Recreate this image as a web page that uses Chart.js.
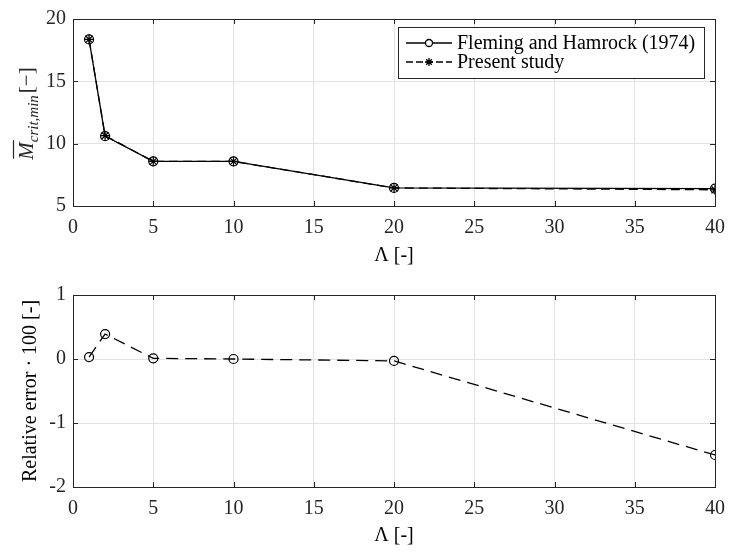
<!DOCTYPE html>
<html>
<head>
<meta charset="utf-8">
<script src="https://cdn.jsdelivr.net/npm/chart.js@4.4.1/dist/chart.umd.min.js"></script>
<style>
    html, body { margin: 0; padding: 0; background: #fff; }
    .panel { position: absolute; left: 0; width: 735px; height: 276px; }
</style>
</head>
<body>
<div class="panel" style="top:0"><canvas id="chart-mcrit"></canvas></div>
<div class="panel" style="top:276px"><canvas id="chart-error"></canvas></div>
<script>
// values
const lambdas = [1, 2, 5, 10, 20, 40];
const flemingHamrock = [18.36, 10.60, 8.58, 8.58, 6.45, 6.40];
const presentStudy = [18.37, 10.64, 8.58, 8.58, 6.45, 6.30];
const relativeError = [0.03, 0.39, 0.01, 0.00, -0.03, -1.50];

const lambdaTicks = [0, 5, 10, 15, 20, 25, 30, 35, 40];
const mcritTicks = [5, 10, 15, 20];
const errorTicks = [-2, -1, 0, 1];

const FONT = '"Liberation Serif", "DejaVu Serif", serif';
const INK = '#262626';
const tickFont = { family: FONT, size: 20 };

Chart.defaults.font.family = FONT;
Chart.defaults.font.size = 20;
Chart.defaults.color = INK;
Chart.defaults.animation = false;

const toPoints = (xs, ys) => xs.map((x, i) => ({ x: x, y: ys[i] }));
const fixedTicks = (values) => (scale) => { scale.ticks = values.map(v => ({ value: v })); };

// MATLAB style box with inward ticks on all four sides
const boxPlugin = {
    id: 'matlabBox',
    afterDatasetsDraw(chart) {
        const { ctx, chartArea: a, scales } = chart;
        const len = 5;
        ctx.save();
        ctx.strokeStyle = INK;
        ctx.lineWidth = 1;
        ctx.beginPath();
        scales.x.ticks.forEach(t => {
            const px = Math.round(scales.x.getPixelForValue(t.value)) + 0.5;
            ctx.moveTo(px, a.bottom); ctx.lineTo(px, a.bottom - len);
            ctx.moveTo(px, a.top); ctx.lineTo(px, a.top + len);
        });
        scales.y.ticks.forEach(t => {
            const py = Math.round(scales.y.getPixelForValue(t.value)) + 0.5;
            ctx.moveTo(a.left, py); ctx.lineTo(a.left + len, py);
            ctx.moveTo(a.right, py); ctx.lineTo(a.right - len, py);
        });
        ctx.stroke();
        ctx.strokeRect(Math.round(a.left) + 0.5, Math.round(a.top) + 0.5,
            Math.round(a.right - a.left), Math.round(a.bottom - a.top));
        ctx.restore();
    }
};

// overline M with subscript crit,min, rotated
const mcritTitlePlugin = {
    id: 'mcritTitle',
    afterDraw(chart) {
        const ctx = chart.ctx;
        const a = chart.chartArea;
        const big = 'italic 21px ' + FONT;
        const sub = 'italic 15px ' + FONT;
        const reg = '21px ' + FONT;
        ctx.save();
        ctx.translate(33, (a.top + a.bottom) / 2 + 1);
        ctx.rotate(-Math.PI / 2);
        ctx.fillStyle = INK;
        ctx.strokeStyle = INK;
        ctx.textBaseline = 'alphabetic';
        ctx.font = big; const wM = ctx.measureText('M').width;
        ctx.font = sub; const wS = ctx.measureText('crit,min').width;
        ctx.font = reg; const wB = ctx.measureText('[\u2212]').width;
        const total = wM + wS + 2 + wB;
        let x = -total / 2;
        ctx.font = big;
        ctx.fillText('M', x, 0);
        ctx.lineWidth = 1.2;
        ctx.beginPath();
        ctx.moveTo(x + 1, -19.5); ctx.lineTo(x + wM + 2, -19.5);
        ctx.stroke();
        x += wM;
        ctx.font = sub;
        ctx.fillText('crit,min', x, 5);
        x += wS + 2;
        ctx.font = reg;
        ctx.fillText('[\u2212]', x, 0);
        ctx.restore();
    }
};

// legend with the marker sitting on the line sample
const markerLegendPlugin = {
    id: 'markerLegend',
    afterDraw(chart) {
        const ctx = chart.ctx;
        const box = { left: 398, top: 27, width: 306, height: 51 };
        ctx.save();
        ctx.fillStyle = '#fff';
        ctx.fillRect(box.left, box.top, box.width, box.height);
        ctx.strokeStyle = INK;
        ctx.lineWidth = 1;
        ctx.strokeRect(box.left + 0.5, box.top + 0.5, box.width, box.height);
        ctx.font = '20px ' + FONT;
        ctx.textBaseline = 'middle';
        chart.data.datasets.forEach((ds, i) => {
            const y = box.top + 16 + i * 19;
            ctx.strokeStyle = '#000';
            ctx.lineWidth = 1.3;
            ctx.setLineDash(ds.borderDash ? [7, 3] : []);
            ctx.beginPath();
            ctx.moveTo(406, y); ctx.lineTo(452, y);
            ctx.stroke();
            ctx.setLineDash([]);
            Chart.helpers.drawPoint(ctx, {
                pointStyle: ds.pointStyle, radius: ds.pointRadius - 1, borderWidth: 1.2
            }, 429, y);
            ctx.fillStyle = '#000';
            ctx.fillText(ds.label, 457, y + 1);
        });
        ctx.restore();
    }
};

function lambdaAxis(height) {
    return {
        type: 'linear',
        min: 0, max: 40,
        afterBuildTicks: fixedTicks(lambdaTicks),
        afterFit: (scale) => { scale.height = height; },
        grid: { color: '#e2e2e2', drawTicks: false },
        border: { display: false },
        ticks: { padding: 10, color: INK, font: tickFont },
        title: { display: true, text: '\u039B [-]', color: '#000', padding: 0, font: tickFont }
    };
}

new Chart(document.getElementById('chart-mcrit'), {
    type: 'scatter',
    data: {
        datasets: [
            {
                label: 'Fleming and Hamrock (1974)',
                data: toPoints(lambdas, flemingHamrock),
                showLine: true,
                borderColor: '#000',
                borderWidth: 1.3,
                pointStyle: 'circle',
                pointRadius: 4.5,
                pointBorderWidth: 1.2,
                pointBorderColor: '#000',
                pointBackgroundColor: 'rgba(0,0,0,0)'
            },
            {
                label: 'Present study',
                data: toPoints(lambdas, presentStudy),
                showLine: true,
                borderColor: '#000',
                borderWidth: 1.3,
                borderDash: [9, 5],
                pointStyle: 'star',
                pointRadius: 5,
                pointBorderWidth: 1.2,
                pointBorderColor: '#000'
            }
        ]
    },
    options: {
        responsive: true,
        maintainAspectRatio: false,
        layout: { padding: { left: 0, right: 16, top: 12, bottom: 8 } },
        scales: {
            x: lambdaAxis(62),
            y: {
                type: 'linear',
                min: 5, max: 20,
                afterBuildTicks: fixedTicks(mcritTicks),
                afterFit: (scale) => { scale.width = 73; },
                grid: { color: '#e2e2e2', drawTicks: false },
                border: { display: false },
                ticks: { padding: 7, color: INK, font: tickFont }
            }
        },
        plugins: {
            legend: { display: false },
            tooltip: { enabled: false }
        }
    },
    plugins: [boxPlugin, mcritTitlePlugin, markerLegendPlugin]
});

new Chart(document.getElementById('chart-error'), {
    type: 'scatter',
    data: {
        datasets: [
            {
                label: 'Relative error',
                data: toPoints(lambdas, relativeError),
                showLine: true,
                borderColor: '#000',
                borderWidth: 1.3,
                borderDash: [12, 7],
                pointStyle: 'circle',
                pointRadius: 4.5,
                pointBorderWidth: 1.2,
                pointBorderColor: '#000',
                pointBackgroundColor: 'rgba(0,0,0,0)'
            }
        ]
    },
    options: {
        responsive: true,
        maintainAspectRatio: false,
        layout: { padding: { left: 0, right: 16, top: 17, bottom: 4 } },
        scales: {
            x: lambdaAxis(61),
            y: {
                type: 'linear',
                min: -2, max: 1,
                afterBuildTicks: fixedTicks(errorTicks),
                afterFit: (scale) => { scale.width = 73; },
                grid: { color: '#e2e2e2', drawTicks: false },
                border: { display: false },
                ticks: { padding: 7, color: INK, font: tickFont },
                title: { display: true, text: 'Relative error \u00B7 100 [-]', color: '#000', padding: { top: 19, bottom: 0 }, font: tickFont }
            }
        },
        plugins: {
            legend: { display: false },
            tooltip: { enabled: false }
        }
    },
    plugins: [boxPlugin]
});
</script>
</body>
</html>
